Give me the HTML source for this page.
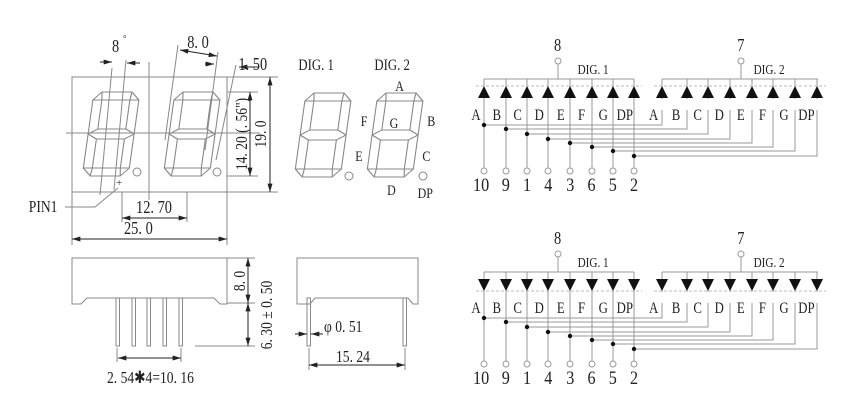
<!DOCTYPE html>
<html><head><style>
body{margin:0;background:#fff;}
svg{display:block;font-family:"Liberation Serif",serif;}
</style></head><body>
<svg width="850" height="400" viewBox="0 0 850 400" xmlns="http://www.w3.org/2000/svg">
<defs>
<g id="dg" fill="none" stroke="#888" stroke-width="1.1">
<path d="M8 0 L38 0 L46 8 L46 76 L38 84 L8 84 L0 76 L0 8 Z"/>
<path d="M9 8 L37 8 L37 37 L9 37 Z"/>
<path d="M9 47 L37 47 L37 76 L9 76 Z"/>
<path d="M8 0 L9 8 M38 0 L37 8 M0 8 L9 8 M46 8 L37 8 M0 42 L9 37 M0 42 L9 47 M46 42 L37 37 M46 42 L37 47 M0 76 L9 76 M46 76 L37 76 M8 84 L9 76 M38 84 L37 76"/>
</g>
<marker id="ar" viewBox="0 0 10 6" refX="10" refY="3" markerWidth="9" markerHeight="5" orient="auto-start-reverse"><path d="M0 0 L10 3 L0 6Z" fill="#222"/></marker>
<g id="circ">
<g stroke="#999" stroke-width="1" fill="none">
<path d="M484 79 H634 M662 79 H818 M558 64 V79 M741 64 V79"/>
<path d="M484 79 V168 M506 79 V168 M527 79 V168 M548 79 V168 M570 79 V168 M592 79 V168 M613 79 V168 M634 79 V168"/>
<path d="M662 79 V99 M687 79 V99 M708 79 V99 M730 79 V99 M752 79 V99 M773 79 V99 M795 79 V99 M817 79 V99"/>
<path d="M484 125 H662 V110 M506 129 H687 V110 M527 134 H708 V110 M548 139 H730 V110 M570 143 H752 V110 M592 147 H773 V110 M613 151 H795 V110 M634 156 H817 V110"/>
</g>
<g fill="#fff" stroke="#999"><circle cx="558" cy="61" r="3"/><circle cx="741" cy="61" r="3"/>
<circle cx="484" cy="171" r="3"/><circle cx="506" cy="171" r="3"/><circle cx="527" cy="171" r="3"/><circle cx="548" cy="171" r="3"/><circle cx="570" cy="171" r="3"/><circle cx="592" cy="171" r="3"/><circle cx="613" cy="171" r="3"/><circle cx="634" cy="171" r="3"/></g>
<g fill="#111"><circle cx="484" cy="125" r="2.2"/><circle cx="506" cy="129" r="2.2"/><circle cx="527" cy="134" r="2.2"/><circle cx="548" cy="139" r="2.2"/><circle cx="570" cy="143" r="2.2"/><circle cx="592" cy="147" r="2.2"/><circle cx="613" cy="151" r="2.2"/><circle cx="634" cy="156" r="2.2"/></g>
<g fill="#222" font-size="18" text-anchor="middle" transform="scale(0.8,1)">
<text x="697" y="51">8</text><text x="926" y="51">7</text>
</g>
<g fill="#222" font-size="14" transform="scale(0.8,1)">
<text x="722" y="74">DIG. 1</text><text x="942" y="74">DIG. 2</text>
</g>
<g fill="#222" font-size="16" text-anchor="middle" transform="scale(0.8,1)">
<text x="595" y="120">A</text><text x="621" y="120">B</text><text x="647" y="120">C</text><text x="674" y="120">D</text><text x="701" y="120">E</text><text x="727" y="120">F</text><text x="754" y="120">G</text><text x="781" y="120">DP</text>
<text x="817" y="120">A</text><text x="845" y="120">B</text><text x="872" y="120">C</text><text x="899" y="120">D</text><text x="926" y="120">E</text><text x="953" y="120">F</text><text x="980" y="120">G</text><text x="1008" y="120">DP</text>
</g>
<g fill="#222" font-size="19" text-anchor="middle" transform="scale(0.85,1)">
<text x="566" y="191">10</text><text x="595" y="191">9</text><text x="620" y="191">1</text><text x="645" y="191">4</text><text x="671" y="191">3</text><text x="696" y="191">6</text><text x="721" y="191">5</text><text x="746" y="191">2</text>
</g>
</g>
</defs>

<!-- front view -->
<g fill="none" stroke="#888" stroke-width="1">
<rect x="72" y="77" width="155" height="115"/>
<path d="M149 62 V200 M66 133 H260 M227 92 H258 M227 176 H258 M227 77 H278 M227 192 H278"/>
<path d="M72 192 V245 M227 192 V245 M122 192 V222 M187 192 V222"/>
<path d="M112 68 L100 195 M126 60 L114 190"/>
<path d="M178 45 L165 140 M218 52 L205 150 M236 65 L216 160"/>
<path d="M65 207 H95 L118 188"/>
</g>
<use href="#dg" transform="translate(94,92) skewX(-8)"/>
<use href="#dg" transform="translate(175,92) skewX(-8)"/>
<use href="#dg" transform="translate(306,93) skewX(-8)"/>
<use href="#dg" transform="translate(378,93) skewX(-8)"/>
<g fill="none" stroke="#888"><circle cx="137" cy="172" r="4"/><circle cx="217" cy="172" r="4"/><circle cx="349" cy="176" r="4"/><circle cx="423" cy="176" r="4"/></g>
<text x="116" y="186" font-size="11" fill="#333">+</text>
<g stroke="#222" stroke-width="1" fill="none">
<path d="M100 62 H112" marker-end="url(#ar)"/><path d="M140 63 H127" marker-end="url(#ar)"/>
<path d="M180 50 L217 56" marker-start="url(#ar)" marker-end="url(#ar)"/>
<path d="M205 64 H214" marker-end="url(#ar)"/><path d="M258 67 H239" marker-end="url(#ar)"/>
<path d="M270 77 V192" marker-start="url(#ar)" marker-end="url(#ar)"/>
<path d="M250 92 V176" marker-start="url(#ar)" marker-end="url(#ar)"/>
<path d="M122 218 H187" marker-start="url(#ar)" marker-end="url(#ar)"/>
<path d="M72 239 H227" marker-start="url(#ar)" marker-end="url(#ar)"/>
</g>
<g fill="#222" font-size="18" transform="scale(0.8,1)">
<text x="140" y="52">8</text><text x="154" y="42" font-size="10">°</text>
<text x="234" y="48">8. 0</text>
<text x="298" y="70">1. 50</text>
<text x="36" y="212" font-size="17">PIN1</text>
<text x="170" y="213">12. 70</text>
<text x="155" y="234">25. 0</text>
<text x="373" y="70" font-size="16">DIG. 1</text><text x="468" y="70" font-size="16">DIG. 2</text>
<text x="494" y="91" font-size="15">A</text>
<text x="451" y="126" font-size="15">F</text>
<text x="487" y="128" font-size="15">G</text>
<text x="534" y="126" font-size="15">B</text>
<text x="444" y="161" font-size="15">E</text>
<text x="528" y="161" font-size="15">C</text>
<text x="484" y="195" font-size="15">D</text>
<text x="522" y="198" font-size="15">DP</text>
</g>
<g fill="#222" font-size="17">
<text transform="translate(247,134) rotate(-90) scale(0.8,1)" text-anchor="middle">14. 20 (. 56")</text>
<text transform="translate(266,134) rotate(-90) scale(0.8,1)" text-anchor="middle">19. 0</text>
</g>

<!-- side views -->
<g fill="none" stroke="#888" stroke-width="1">
<path d="M72 304 V258 H227 V304 H220 L214 298 H87 L81 304 Z"/>
<rect x="116" y="298" width="3.5" height="48"/><rect x="132" y="298" width="3.5" height="48"/><rect x="147" y="298" width="3.5" height="48"/><rect x="163" y="298" width="3.5" height="48"/><rect x="179" y="298" width="3.5" height="48"/>
<path d="M227 258 H255 M227 303 H255 M195 346 H255 M117 348 V362 M181 348 V362"/>
<path d="M297 304 V258 H418 V304 H413 L408 298 H315 L310 304 Z"/>
<rect x="307" y="298" width="3.5" height="48"/><rect x="403" y="298" width="3.5" height="48"/>
<path d="M309 348 V370 M405 348 V370"/>
</g>
<g stroke="#222" stroke-width="1" fill="none">
<path d="M248 258 V303" marker-start="url(#ar)" marker-end="url(#ar)"/>
<path d="M248 303 V346" marker-start="url(#ar)" marker-end="url(#ar)"/>
<path d="M118 358 H181" marker-start="url(#ar)" marker-end="url(#ar)"/>
<path d="M309 365 H405" marker-start="url(#ar)" marker-end="url(#ar)"/>
<path d="M295 334 H307" marker-end="url(#ar)"/><path d="M323 334 H311" marker-end="url(#ar)"/>
</g>
<g fill="#222" font-size="17">
<text transform="translate(245,281) rotate(-90) scale(0.8,1)" text-anchor="middle">8. 0</text>
<text transform="translate(272,315) rotate(-90) scale(0.8,1)" text-anchor="middle">6. 30 ± 0. 50</text>
<text transform="translate(107,383) scale(0.8,1)">2. 54✱4=10. 16</text>
<text transform="translate(324,332) scale(0.8,1)">φ 0. 51</text>
<text transform="translate(336,362) scale(0.8,1)">15. 24</text>
</g>

<!-- circuits -->
<use href="#circ"/>
<g fill="#111">
<path d="M478 98 L490 98 L484 86Z M500 98 L512 98 L506 86Z M521 98 L533 98 L527 86Z M542 98 L554 98 L548 86Z M564 98 L576 98 L570 86Z M586 98 L598 98 L592 86Z M607 98 L619 98 L613 86Z M628 98 L640 98 L634 86Z"/>
<path d="M656 98 L668 98 L662 86Z M681 98 L693 98 L687 86Z M702 98 L714 98 L708 86Z M724 98 L736 98 L730 86Z M746 98 L758 98 L752 86Z M767 98 L779 98 L773 86Z M789 98 L801 98 L795 86Z M811 98 L823 98 L817 86Z"/>
</g>
<g stroke="#bbb" stroke-dasharray="3 2"><path d="M476 86 H642 M654 86 H826"/></g>

<use href="#circ" transform="translate(0,193)"/>
<g fill="#111" transform="translate(0,193)">
<path d="M478 86 L490 86 L484 98Z M500 86 L512 86 L506 98Z M521 86 L533 86 L527 98Z M542 86 L554 86 L548 98Z M564 86 L576 86 L570 98Z M586 86 L598 86 L592 98Z M607 86 L619 86 L613 98Z M628 86 L640 86 L634 98Z"/>
<path d="M656 86 L668 86 L662 98Z M681 86 L693 86 L687 98Z M702 86 L714 86 L708 98Z M724 86 L736 86 L730 98Z M746 86 L758 86 L752 98Z M767 86 L779 86 L773 98Z M789 86 L801 86 L795 98Z M811 86 L823 86 L817 98Z"/>
</g>
<g stroke="#bbb" stroke-dasharray="3 2" transform="translate(0,193)"><path d="M476 98 H642 M654 98 H826"/></g>
</svg>
</body></html>
